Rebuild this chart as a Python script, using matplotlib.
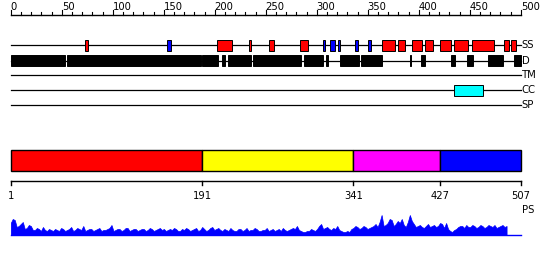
import matplotlib
matplotlib.use("Agg")
import matplotlib.pyplot as plt
from matplotlib.patches import Rectangle

# feature tracks (top ruler units)
ss_helix = [(73, 76), (202, 217), (234, 236), (253, 258), (284, 291), (364, 377),
            (380, 387), (393, 403), (406, 414), (421, 432), (435, 448), (452, 474),
            (484, 489), (490, 495)]
ss_strand = [(153, 157), (306, 308), (313, 318), (321, 323), (338, 340), (350, 353)]
disorder = [(0, 53), (55, 187), (188, 203), (207, 210), (213, 236), (238, 285),
            (288, 306), (309, 311), (323, 341), (343, 364), (391, 392), (402, 406),
            (432, 436), (447, 453), (468, 483), (493, 500)]
coiled = [(435, 463)]
track_names = ["SS", "D", "TM", "CC", "SP"]

# domain bar
dom_bounds = [1, 191, 341, 427, 507]
dom_colors = ["#ff0000", "#ffff00", "#ff00ff", "#0000ff"]

# profile (residue, value)
prof_x = list(range(1, 494, 2))
prof_y = [12, 16, 15, 8, 9, 11, 13, 6, 7, 10, 9, 5, 5, 7, 6, 4, 8, 5, 4, 6,
          5, 4, 6, 5, 4, 7, 6, 4, 5, 6, 8, 4, 5, 7, 6, 5, 9, 4, 5, 6,
          6, 4, 5, 6, 7, 4, 5, 5, 6, 7, 10, 4, 5, 6, 6, 4, 5, 7, 7, 4,
          5, 6, 6, 4, 5, 6, 6, 4, 5, 7, 6, 4, 5, 6, 7, 5, 6, 4, 5, 6,
          5, 7, 6, 4, 4, 6, 5, 7, 6, 4, 5, 6, 7, 4, 5, 8, 6, 4, 5, 7,
          8, 5, 6, 7, 5, 4, 6, 5, 4, 7, 5, 4, 4, 6, 6, 4, 5, 7, 4, 5,
          5, 7, 6, 4, 4, 5, 5, 7, 4, 5, 6, 4, 5, 6, 4, 7, 5, 4, 5, 6,
          7, 6, 9, 5, 4, 3, 3, 4, 4, 6, 5, 4, 6, 9, 11, 6, 7, 8, 6, 5,
          7, 6, 9, 5, 4, 3, 3, 4, 3, 6, 7, 9, 8, 6, 7, 9, 8, 6, 7, 8,
          9, 11, 8, 13, 20, 9, 10, 12, 16, 15, 9, 11, 14, 12, 16, 10, 8, 13, 20, 14,
          11, 8, 9, 10, 8, 7, 9, 11, 8, 9, 10, 8, 9, 12, 11, 7, 12, 6, 4, 3,
          5, 6, 8, 9, 9, 7, 10, 8, 8, 10, 9, 7, 8, 10, 9, 7, 8, 10, 9, 8,
          10, 7, 8, 9, 10, 8, 9]

W, H = 550, 260
fig = plt.figure(figsize=(W / 100, H / 100), dpi=100)
x0, xw = 10.7 / W, 510 / W
font = dict(family="DejaVu Sans", stretch="condensed")

# ---- top panel ----
ax = fig.add_axes([x0, (H - 115) / H, xw, 115 / H])
ax.set_xlim(0, 500)
ax.set_ylim(115, 0)
ax.axis("off")

ax.plot([0, 500], [15, 15], color="black", lw=1, clip_on=False)
for t in range(0, 501, 10):
    h = 5 if t % 50 == 0 else 3
    ax.plot([t, t], [15, 15 - h], color="black", lw=0.8, clip_on=False)
    if t % 50 == 0:
        ax.text(t, 11.5, str(t), fontsize=8, ha="left", va="bottom", **font)

rows = dict(zip(track_names, [45, 60.5, 75, 90, 105]))
for name, y in rows.items():
    ax.plot([0, 500], [y, y], color="black", lw=0.9, clip_on=False, zorder=1)
    ax.text(501, y, name, fontsize=8, ha="left", va="center", **font)


def boxes(segs, y, color):
    for a, b in segs:
        ax.add_patch(Rectangle((a, y - 5.5), b - a, 11, facecolor=color,
                               edgecolor="black", lw=0.7, zorder=2, clip_on=False))


boxes(ss_helix, rows["SS"], "#ff0000")
boxes(ss_strand, rows["SS"], "#0000ff")
boxes(disorder, rows["D"], "black")
boxes(coiled, rows["CC"], "#00ffff")

# ---- domain bar ----
bx = fig.add_axes([x0, (H - 220) / H, xw, 80 / H])
bx.set_xlim(1, 507)
bx.set_ylim(220, 140)
bx.axis("off")
for a, b, c in zip(dom_bounds[:-1], dom_bounds[1:], dom_colors):
    bx.add_patch(Rectangle((a, 150), b - a, 21, facecolor=c, edgecolor="black",
                           lw=1, clip_on=False))
bx.plot([1, 507], [180.7, 180.7], color="black", lw=1, clip_on=False)
for t in dom_bounds:
    bx.plot([t, t], [180.7, 185], color="black", lw=1, clip_on=False)
    bx.text(t, 196, str(t), fontsize=8, ha="center", va="center", **font)
bx.text(508, 210, "PS", fontsize=8, ha="left", va="center", **font)

# ---- profile ----
px = fig.add_axes([x0, 25 / H, xw, 25 / H])
px.set_xlim(1, 507)
px.set_ylim(0, 25)
px.axis("off")
px.fill_between(prof_x, 0, prof_y, color="#0000ff", lw=0.5)
px.plot([1, 507], [0, 0], color="#0000ff", lw=1, clip_on=False)

fig.savefig("out.png", dpi=100)
